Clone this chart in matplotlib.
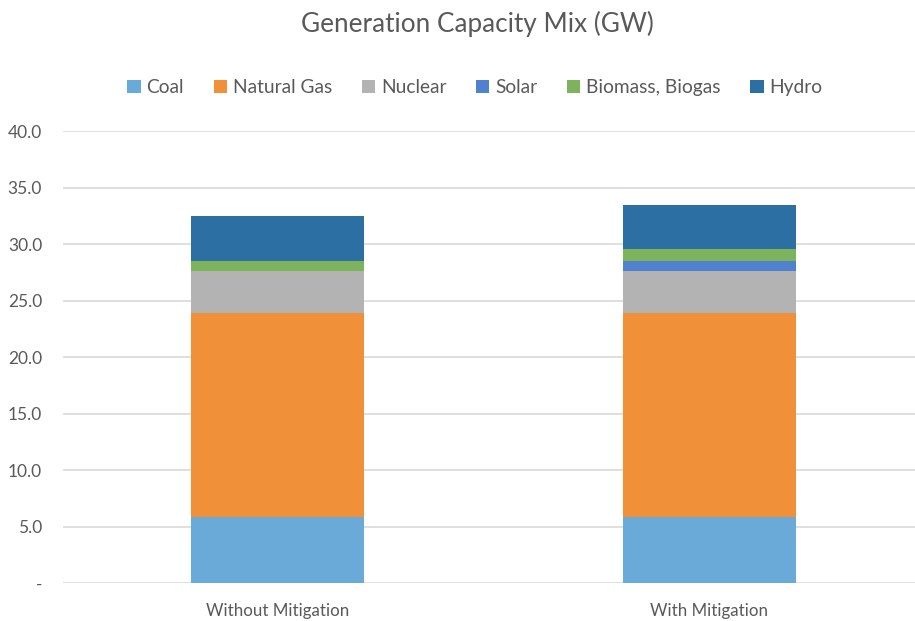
import matplotlib.pyplot as plt
from matplotlib.ticker import FixedLocator, FixedFormatter
import numpy as np

scenarios = ['Without Mitigation', 'With Mitigation']
sources = ['Coal', 'Natural Gas', 'Nuclear', 'Solar', 'Biomass, Biogas', 'Hydro']
coal = [5.9, 5.9]
natural_gas = [18.05, 18.0]
nuclear = [3.65, 3.7]
solar = [0.0, 0.95]
biomass = [0.95, 1.03]
hydro = [3.95, 3.92]
colors = ['#6aaad9', '#f0913a', '#b3b3b3', '#4f81cf', '#7db35a', '#2b6fa3']

yticks = [0, 5, 10, 15, 20, 25, 30, 35, 40]
ytick_labels = ['-', '5.0', '10.0', '15.0', '20.0', '25.0', '30.0', '35.0', '40.0']

plt.rcParams['font.family'] = ['Lato', 'DejaVu Sans']
text_color = '#595959'

fig = plt.figure(figsize=(9.15, 6.21), dpi=100)
ax = fig.add_axes([63 / 915, (621 - 583.3) / 621, 852 / 915, 452 / 621])

x = np.arange(len(scenarios))
series = [coal, natural_gas, nuclear, solar, biomass, hydro]
bottom = np.zeros(len(scenarios))
handles = []
for name, vals, c in zip(sources, series, colors):
    b = ax.bar(x, vals, 0.4, bottom=bottom, color=c, label=name, zorder=3)
    handles.append(b)
    bottom += np.array(vals)

ax.set_xlim(-0.4965, 1.4757)
ax.set_ylim(0, 40)
ax.yaxis.set_major_locator(FixedLocator(yticks))
ax.yaxis.set_major_formatter(FixedFormatter(ytick_labels))
ax.set_xticks(x)
ax.set_xticklabels(scenarios)
ax.grid(axis='y', color='#d9d9d9', linewidth=1.2, zorder=0)
for s in ax.spines.values():
    s.set_visible(False)
ax.tick_params(length=0, colors=text_color)
ax.tick_params(axis='x', pad=14, labelsize=12.2)
ax.tick_params(axis='y', pad=15, labelsize=12.5)
for lbl in ax.get_yticklabels():
    lbl.set_horizontalalignment('right')

fig.text(0.522, 0.962, 'Generation Capacity Mix (GW)', ha='center', va='center',
         fontsize=18.8, color=text_color)

fig.legend(handles=handles, labels=sources, loc='center', bbox_to_anchor=(0.519, 0.859),
           ncol=6, frameon=False, fontsize=13.8, handlelength=0.7, handleheight=0.7,
           handletextpad=0.3, columnspacing=1.55, labelcolor=text_color)

fig.savefig('out.png', dpi=100)
